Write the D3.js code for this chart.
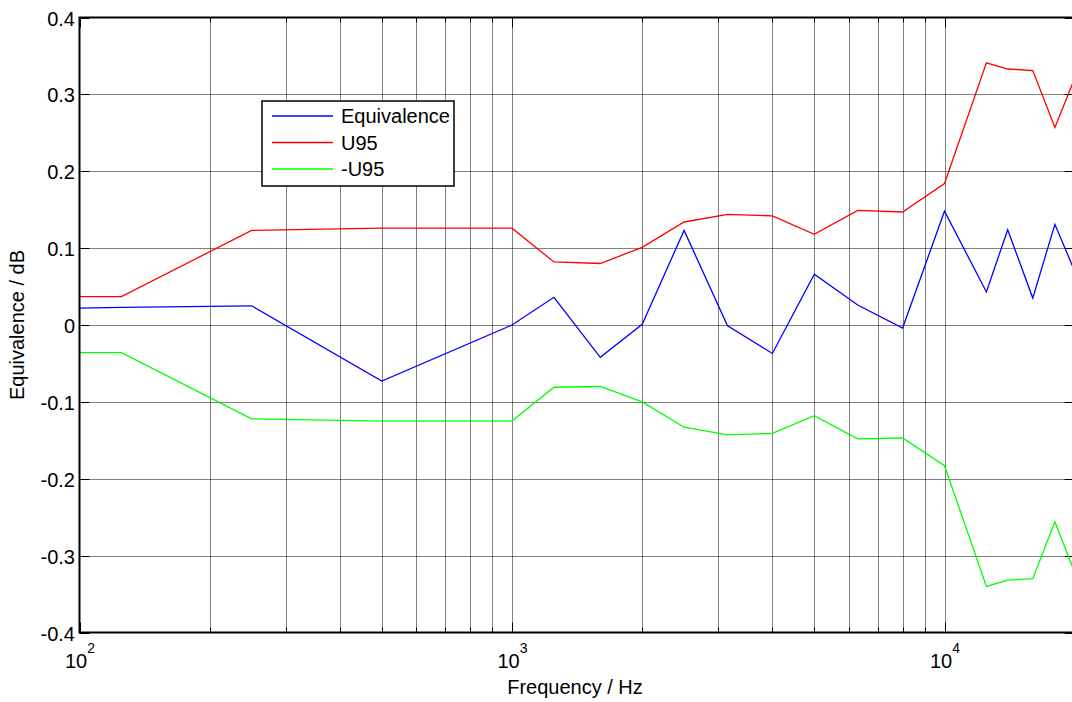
<!DOCTYPE html>
<html>
<head>
<meta charset="utf-8">
<script src="https://cdn.jsdelivr.net/npm/d3@7"></script>
<style>
  body { margin: 0; background: #fff; }
  text { font-family: Arial, "Liberation Sans", sans-serif; fill: #000; }
</style>
</head>
<body>
<svg id="chart" width="1072" height="702"></svg>
<script>
// third-octave band centres (Hz)
const freqs = [100, 125, 250, 500, 1000, 1250, 1600, 2000, 2500, 3150, 4000,
               5000, 6300, 8000, 10000, 12500, 14000, 16000, 18000, 20000];
const equivalence = [0.022, 0.023, 0.025, -0.073, 0.0, 0.036, -0.042, 0.001, 0.123, -0.001, -0.037,
                     0.066, 0.026, -0.004, 0.148, 0.043, 0.124, 0.035, 0.131, 0.07];
const u95 = [0.037, 0.037, 0.123, 0.126, 0.126, 0.082, 0.080, 0.101, 0.134, 0.144, 0.142,
             0.118, 0.149, 0.147, 0.184, 0.341, 0.333, 0.331, 0.257, 0.321];
const negU95 = [-0.036, -0.036, -0.122, -0.125, -0.125, -0.081, -0.080, -0.100, -0.133, -0.143, -0.141,
                -0.118, -0.148, -0.147, -0.183, -0.340, -0.332, -0.330, -0.256, -0.322];
const yTicks = [-0.4, -0.3, -0.2, -0.1, 0, 0.1, 0.2, 0.3, 0.4];
const xMajor = [100, 1000, 10000];
const seriesNames = ['Equivalence', 'U95', '-U95'];
const seriesColors = ['#0000ff', '#ff0000', '#00ff00'];

const svg = d3.select('#chart');
const plotLeft = 79.5, plotTop = 17.5, plotBottom = 632.5;
const decade = 432.5;
const fs = 20;

const x = d3.scaleLog().domain([100, 20000])
    .range([plotLeft, plotLeft + decade * Math.log10(200)]);
const y = d3.scaleLinear().domain([-0.4, 0.4]).range([plotBottom, plotTop]);
const plotRight = x.range()[1];

svg.append('defs').append('clipPath').attr('id', 'clip')
    .append('rect')
    .attr('x', plotLeft).attr('y', plotTop)
    .attr('width', plotRight - plotLeft).attr('height', plotBottom - plotTop);

// grid lines (dotted, MATLAB-like)
const xGrid = [];
for (let d = 100; d <= 10000; d *= 10) {
    for (let m = 1; m <= 9; m++) {
        if (d * m <= 20000) xGrid.push(d * m);
    }
}
xGrid.push(20000);

svg.append('g').selectAll('line')
    .data(xGrid.filter(v => v > 100))
    .enter().append('line')
    .attr('x1', d => Math.round(x(d)) + 0.5).attr('x2', d => Math.round(x(d)) + 0.5)
    .attr('y1', plotTop).attr('y2', plotBottom)
    .attr('stroke', '#000').attr('stroke-width', 1)
    .attr('stroke-dasharray', '1,1');

svg.append('g').selectAll('line')
    .data(yTicks.filter(v => v > -0.4 && v < 0.4))
    .enter().append('line')
    .attr('x1', plotLeft).attr('x2', plotRight)
    .attr('y1', d => Math.round(y(d)) + 0.5).attr('y2', d => Math.round(y(d)) + 0.5)
    .attr('stroke', '#000').attr('stroke-width', 1)
    .attr('stroke-dasharray', '1,1');

// tick marks (inside)
const tickG = svg.append('g').attr('stroke', '#000').attr('stroke-width', 1);
xGrid.forEach(v => {
    const xx = Math.round(x(v)) + 0.5;
    const len = xMajor.includes(v) ? 10 : 5;
    tickG.append('line').attr('x1', xx).attr('x2', xx).attr('y1', plotBottom).attr('y2', plotBottom - len);
    tickG.append('line').attr('x1', xx).attr('x2', xx).attr('y1', plotTop).attr('y2', plotTop + len);
});
yTicks.forEach(v => {
    const yy = Math.round(y(v)) + 0.5;
    tickG.append('line').attr('x1', plotLeft).attr('x2', plotLeft + 10).attr('y1', yy).attr('y2', yy);
    tickG.append('line').attr('x1', plotRight).attr('x2', plotRight - 10).attr('y1', yy).attr('y2', yy);
});

// data lines
const allSeries = [equivalence, u95, negU95];
const line = d3.line()
    .x((d, i) => x(freqs[i]))
    .y(d => y(d));

svg.append('g').attr('clip-path', 'url(#clip)')
    .selectAll('path')
    .data(allSeries)
    .enter().append('path')
    .attr('d', d => line(d))
    .attr('fill', 'none')
    .attr('stroke', (d, i) => seriesColors[i])
    .attr('stroke-width', 1.3);

// axes box
svg.append('rect')
    .attr('x', plotLeft).attr('y', plotTop)
    .attr('width', plotRight - plotLeft).attr('height', plotBottom - plotTop)
    .attr('fill', 'none').attr('stroke', '#000').attr('stroke-width', 2);

// y tick labels
svg.append('g').selectAll('text')
    .data(yTicks)
    .enter().append('text')
    .attr('x', 75)
    .attr('y', d => y(d) + 8)
    .attr('text-anchor', 'end')
    .attr('font-size', fs)
    .text(d => d === 0 ? '0' : d3.format('.1f')(d).replace('−', '-'));

// x tick labels with exponent
const xl = svg.append('g').selectAll('text')
    .data(xMajor)
    .enter().append('text')
    .attr('x', d => x(d) - 14.5)
    .attr('y', 668)
    .attr('font-size', fs);
xl.append('tspan').text('10');
xl.append('tspan').attr('dy', -15).attr('font-size', 14)
    .text(d => String(Math.round(Math.log10(d))));

// axis titles
svg.append('text')
    .attr('x', 575).attr('y', 694)
    .attr('text-anchor', 'middle')
    .attr('font-size', fs)
    .text('Frequency / Hz');

svg.append('text')
    .attr('transform', 'translate(24,325) rotate(-90)')
    .attr('text-anchor', 'middle')
    .attr('font-size', fs)
    .text('Equivalence / dB');

// legend
const lg = svg.append('g');
lg.append('rect')
    .attr('x', 262).attr('y', 101)
    .attr('width', 192).attr('height', 85)
    .attr('fill', '#fff').attr('stroke', '#000').attr('stroke-width', 1.5);
seriesNames.forEach((name, i) => {
    const yy = 116 + i * 26.5;
    lg.append('line')
        .attr('x1', 272).attr('x2', 333)
        .attr('y1', yy).attr('y2', yy)
        .attr('stroke', seriesColors[i]).attr('stroke-width', 1.3);
    lg.append('text')
        .attr('x', 341).attr('y', yy + 7)
        .attr('font-size', fs)
        .text(name);
});
</script>
</body>
</html>
